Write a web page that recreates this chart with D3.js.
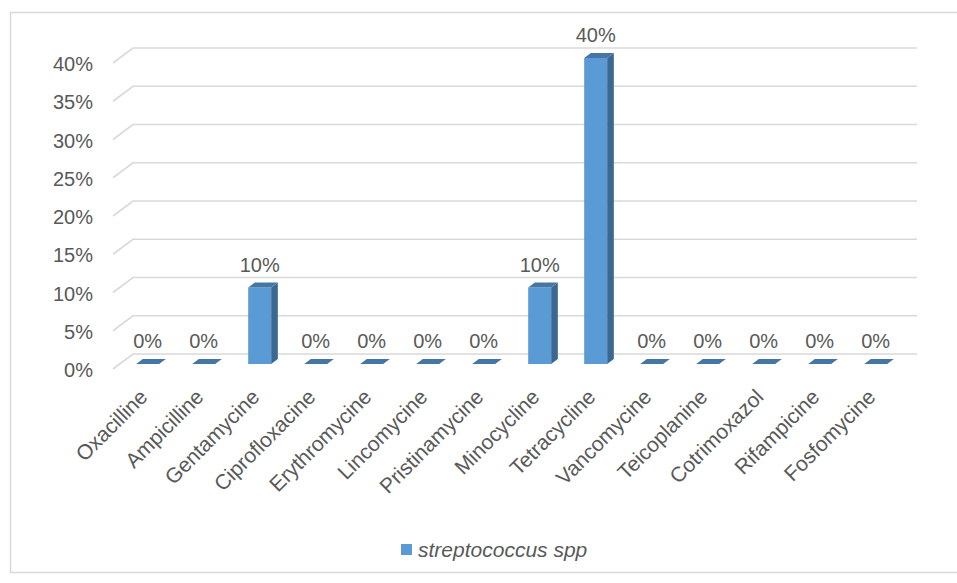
<!DOCTYPE html>
<html>
<head>
<meta charset="utf-8">
<script src="https://cdn.jsdelivr.net/npm/d3@7/dist/d3.min.js"></script>
<style>
  html, body { margin: 0; padding: 0; background: #fff; }
  svg { display: block; }
  text { font-family: "Liberation Sans", Arial, sans-serif; fill: #595959; }
</style>
</head>
<body>
<svg id="chart" width="957" height="583"></svg>
<script>
// Resistance rates of streptococcus spp per antibiotic
const categories = ["Oxacilline", "Ampicilline", "Gentamycine", "Ciprofloxacine", "Erythromycine",
  "Lincomycine", "Pristinamycine", "Minocycline", "Tetracycline", "Vancomycine",
  "Teicoplanine", "Cotrimoxazol", "Rifampicine", "Fosfomycine"];
const values = [0, 0, 10, 0, 0, 0, 0, 10, 40, 0, 0, 0, 0, 0];
const yTicks = [0, 5, 10, 15, 20, 25, 30, 35, 40];
const seriesName = "streptococcus spp";

const svg = d3.select("#chart");

// outer chart frame
svg.append("rect")
  .attr("x", 10.5).attr("y", 12.5)
  .attr("width", 960).attr("height", 560)
  .attr("fill", "none").attr("stroke", "#d9d9d9").attr("stroke-width", 1.5);

// front plane of the 3D plot area
const x = d3.scaleBand().domain(categories).range([113, 897]);
const y = d3.scaleLinear().domain([0, 40]).range([369, 63]);
const depth = { dx: 20, dy: -15 };
const barW = 23;
const fmt = v => v + "%";

// back wall gridlines plus the short diagonal on the left side wall
const grid = svg.append("g");
yTicks.forEach(t => {
  const yf = y(t);
  grid.append("path")
    .attr("d", `M${x.range()[0]},${yf} L${x.range()[0] + depth.dx},${yf + depth.dy} L${x.range()[1] + depth.dx},${yf + depth.dy}`)
    .attr("fill", "none").attr("stroke", "#d9d9d9").attr("stroke-width", 1.6);
});

// y axis labels
svg.append("g").selectAll("text").data(yTicks).join("text")
  .attr("x", 93).attr("y", d => y(d) + 1)
  .attr("dy", "0.35em").attr("text-anchor", "end")
  .attr("font-size", 20)
  .text(fmt);

// bars sit between 1/3 and 2/3 of the depth
const bx = c => x(c) + x.bandwidth() / 2 + depth.dx / 3 - barW / 2;
const by = v => y(v) + depth.dy / 3;
const bdx = depth.dx / 3, bdy = depth.dy / 3;

const bars = svg.append("g").selectAll("g").data(categories.map((c, i) => ({ c, v: values[i] }))).join("g");

bars.each(function (d) {
  const g = d3.select(this);
  const x0 = bx(d.c), yTop = by(d.v), yBot = by(0);
  if (d.v > 0) {
    g.append("rect")
      .attr("x", x0).attr("y", yTop).attr("width", barW).attr("height", yBot - yTop)
      .attr("fill", "#5b9bd5");
    g.append("path")
      .attr("d", `M${x0 + barW},${yTop} L${x0 + barW + bdx},${yTop + bdy} L${x0 + barW + bdx},${yBot + bdy} L${x0 + barW},${yBot} Z`)
      .attr("fill", "#3b6890");
  }
  g.append("path")
    .attr("d", `M${x0},${yTop} L${x0 + bdx},${yTop + bdy} L${x0 + barW + bdx},${yTop + bdy} L${x0 + barW},${yTop} Z`)
    .attr("fill", "#4476a6");
});

// value labels
bars.append("text")
  .attr("x", d => bx(d.c) + barW / 2)
  .attr("y", d => by(d.v) - 16)
  .attr("text-anchor", "middle")
  .attr("font-size", 20)
  .text(d => fmt(d.v));

// rotated category labels
svg.append("g").selectAll("text").data(categories).join("text")
  .attr("transform", c => `translate(${x(c) + x.bandwidth() / 2 + depth.dx / 3 - 4},393) rotate(-45)`)
  .attr("dy", "0.35em").attr("text-anchor", "end")
  .attr("font-size", 21)
  .text(c => c);

// legend
const legend = svg.append("g").attr("transform", "translate(401,544)");
legend.append("rect").attr("width", 11).attr("height", 11).attr("fill", "#5b9bd5");
legend.append("text")
  .attr("x", 17).attr("y", 6).attr("dy", "0.35em")
  .attr("font-size", 21).attr("font-style", "italic")
  .text(seriesName);
</script>
</body>
</html>
